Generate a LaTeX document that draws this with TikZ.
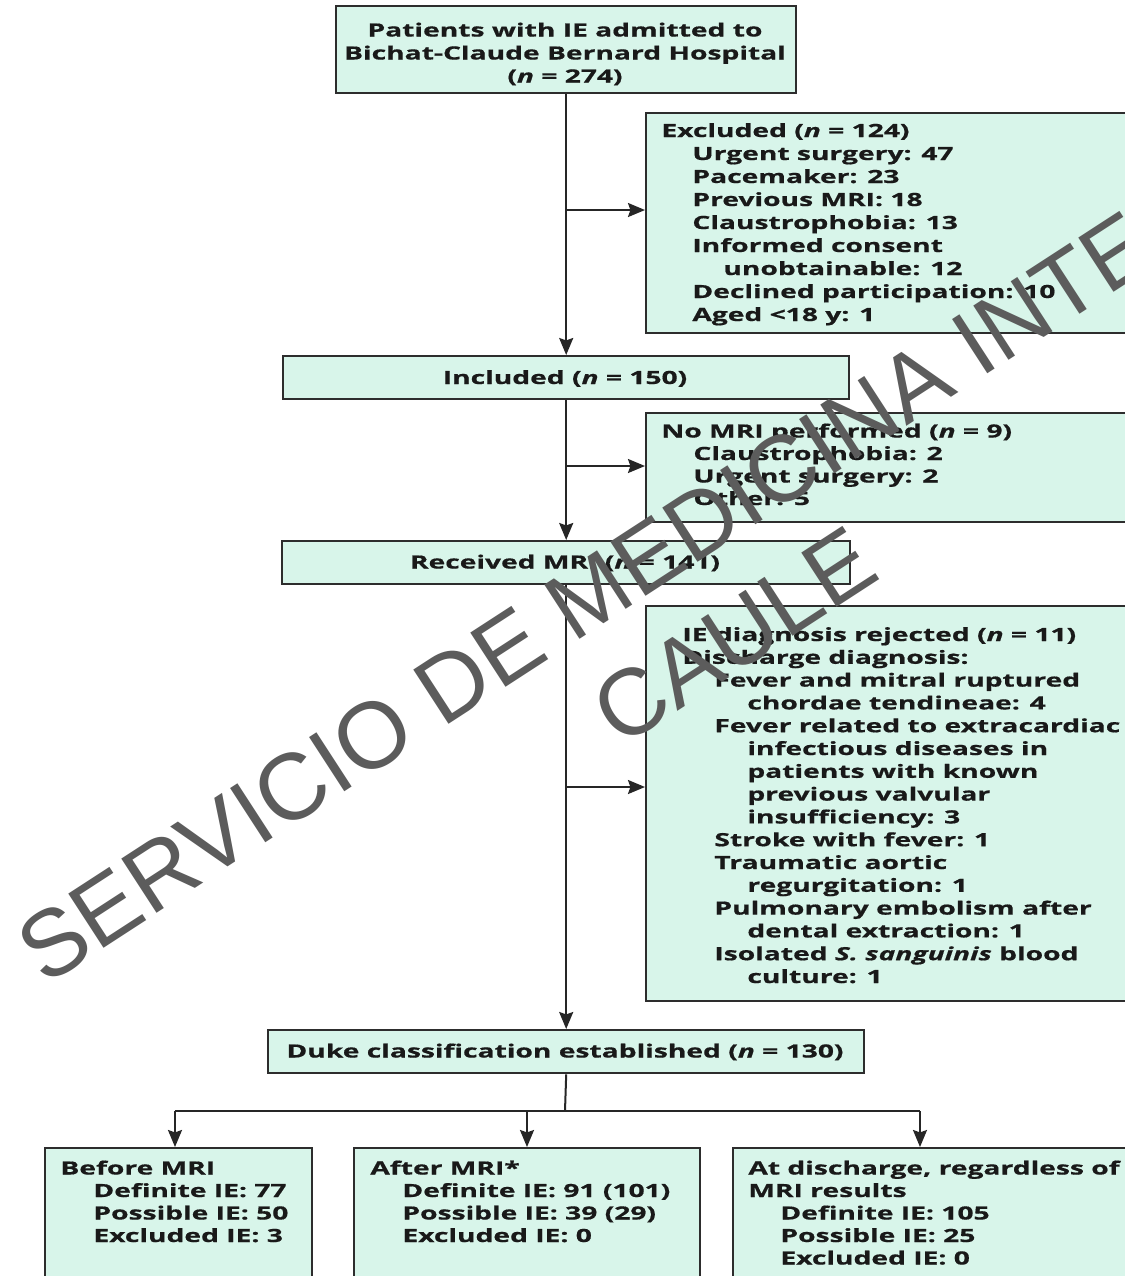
\documentclass[tikz,border=0pt]{standalone}
\usepackage{fontspec}
\setmainfont[FakeStretch=1.55, BoldFeatures={FakeBold=0.7}, BoldItalicFeatures={FakeBold=0.7}]{Open Sans}
\newfontfamily\wmfont{Liberation Sans}
\usetikzlibrary{arrows.meta}
\definecolor{mint}{RGB}{216,245,234}
\definecolor{edge}{RGB}{45,45,45}
\definecolor{wmgray}{RGB}{92,92,92}
\newcommand\mkbox[5]{\node[box, anchor=north west, minimum width={(#4-#2)*0.5pt}, minimum height={(#5-#3)*0.5pt}] (#1) at (#2,#3) {};}
\begin{document}
\begin{tikzpicture}[x=0.5pt,y=-0.5pt,
  box/.style={draw=edge, fill=mint, line width=1.2pt, inner sep=0pt},
  txt/.style={anchor=base west, inner sep=0pt, font=\bfseries\fontsize{9.1}{11.5}\selectfont, text=black!90},
  ctxt/.style={txt, anchor=base},
  link/.style={draw=black!85, line width=1pt},
  arr/.style={link, -{Stealth[length=8.5pt,width=7pt,inset=1.2pt]}},
  wm/.style={inner sep=0pt, anchor=base, rotate=33, text=wmgray, font=\wmfont\fontsize{47}{56}\selectfont}]
\useasboundingbox (0,0) rectangle (1125,1276);
\clip (0,0) rectangle (1125,1276);
\fill[white] (0,0) rectangle (1125,1276);

% boxes
\mkbox{top}{335}{5}{795}{92}
\mkbox{exc}{645}{112}{1140}{332}
\mkbox{inc}{282}{355}{848}{398}
\mkbox{nomri}{645}{412}{1140}{521}
\mkbox{rec}{281}{540}{849}{583}
\mkbox{rej}{645}{605}{1140}{1000}
\mkbox{duke}{267}{1029}{863}{1072}
\mkbox{bef}{44}{1147}{311}{1300}
\mkbox{aft}{353}{1147}{699}{1300}
\mkbox{dis}{732}{1147}{1140}{1300}

% top box text
\node[ctxt] (t1) at (565,36.5) {Patients with IE admitted to};
\node[ctxt] (t2) at (565,59.5) {Bichat-Claude Bernard Hospital};
\node[ctxt] (t3) at (565,82.5) {(\textit{n} = 274)};

% excluded
\node[txt] (e1) at (661,137) {Excluded (\textit{n} = 124)};
\node[txt] (e2) at (692,160) {Urgent surgery: 47};
\node[txt] (e3) at (692,183) {Pacemaker: 23};
\node[txt] (e4) at (692,206) {Previous MRI: 18};
\node[txt] (e5) at (692,229) {Claustrophobia: 13};
\node[txt] (e6) at (692,252) {Informed consent};
\node[txt] (e7) at (723,275) {unobtainable: 12};
\node[txt] (e8) at (692,298) {Declined participation: 10};
\node[txt] (e9) at (692,321) {Aged <18 y: 1};

% included
\node[ctxt] (i1) at (565,384) {Included (\textit{n} = 150)};

% no MRI
\node[txt] (n1) at (661,437.5) {No MRI performed (\textit{n} = 9)};
\node[txt] (n2) at (693,460) {Claustrophobia: 2};
\node[txt] (n3) at (693,482.5) {Urgent surgery: 2};
\node[txt] (n4) at (693,505) {Other: 5};

% received
\node[ctxt] (r1) at (565,568.5) {Received MRI (\textit{n} = 141)};

% rejected
\node[txt] (j1) at (682,641) {IE diagnosis rejected (\textit{n} = 11)};
\node[txt] (j2) at (682,663.8) {Discharge diagnosis:};
\node[txt] (j3) at (714,686.6) {Fever and mitral ruptured};
\node[txt] (j4) at (747,709.4) {chordae tendineae: 4};
\node[txt] (j5) at (714,732.2) {Fever related to extracardiac};
\node[txt] (j6) at (747,755) {infectious diseases in};
\node[txt] (j7) at (747,777.8) {patients with known};
\node[txt] (j8) at (747,800.6) {previous valvular};
\node[txt] (j9) at (747,823.4) {insufficiency: 3};
\node[txt] (j10) at (714,846.2) {Stroke with fever: 1};
\node[txt] (j11) at (714,869) {Traumatic aortic};
\node[txt] (j12) at (747,891.8) {regurgitation: 1};
\node[txt] (j13) at (714,914.6) {Pulmonary embolism after};
\node[txt] (j14) at (747,937.4) {dental extraction: 1};
\node[txt] (j15) at (714,960.2) {Isolated \textit{S. sanguinis} blood};
\node[txt] (j16) at (747,983) {culture: 1};

% duke
\node[ctxt] (d1) at (565,1057.5) {Duke classification established (\textit{n} = 130)};

% bottom boxes
\node[txt] (b1) at (60,1174.5) {Before MRI};
\node[txt] (b2) at (93,1197) {Definite IE: 77};
\node[txt] (b3) at (93,1219.5) {Possible IE: 50};
\node[txt] (b4) at (93,1242) {Excluded IE: 3};

\node[txt] (a1) at (370,1174.5) {After MRI*};
\node[txt] (a2) at (402,1197) {Definite IE: 91 (101)};
\node[txt] (a3) at (402,1219.5) {Possible IE: 39 (29)};
\node[txt] (a4) at (402,1242) {Excluded IE: 0};

\node[txt] (c1) at (748,1174.5) {At discharge, regardless of};
\node[txt] (c2) at (748,1197) {MRI results};
\node[txt] (c3) at (780,1219.5) {Definite IE: 105};
\node[txt] (c4) at (780,1242) {Possible IE: 25};
\node[txt] (c5) at (780,1264.5) {Excluded IE: 0};

% connectors
\draw[arr] (top.south) -- (inc.north);
\draw[arr] (inc.south) -- (rec.north);
\draw[arr] (rec.south) -- (duke.north);
\coordinate (br1) at (565,210);
\coordinate (br2) at (565,466);
\coordinate (br3) at (565,787);
\draw[arr] (br1) -- (br1 -| exc.west);
\draw[arr] (br2) -- (br2 -| nomri.west);
\draw[arr] (br3) -- (br3 -| rej.west);
\coordinate (hub) at (565,1111);
\coordinate (hl) at (175,1111);
\coordinate (hm) at (527,1111);
\coordinate (hr) at (920,1111);
\draw[link] (duke.south) -- (hub);
\draw[link] (hl) -- (hr);
\draw[arr] (hl) -- (hl |- bef.north);
\draw[arr] (hm) -- (hm |- aft.north);
\draw[arr] (hr) -- (hr |- dis.north);

% watermark
\node[wm] (wm1) at (686,570) {SERVICIO DE MEDICINA INTERNA};
\node[wm] (wm2) at (752,663) {CAULE};
\end{tikzpicture}
\end{document}
